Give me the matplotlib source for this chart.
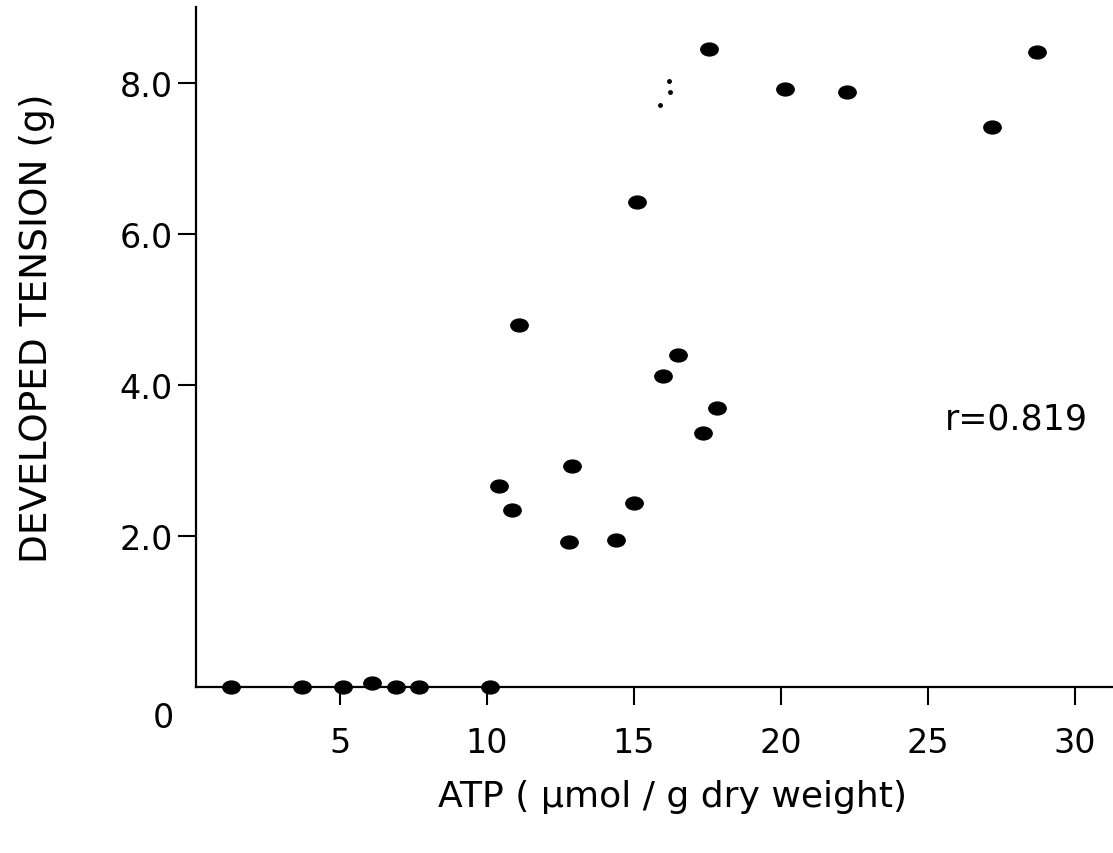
import matplotlib
matplotlib.use("Agg")
import matplotlib.pyplot as plt
from matplotlib.path import Path
from matplotlib.transforms import Affine2D

# ---- data ----
atp_zero = [1.3, 3.7, 5.1, 6.1, 6.9, 7.7, 10.1]
tension_zero = [0.0, 0.0, 0.0, 0.05, 0.0, 0.0, 0.0]

atp = [10.4, 10.85, 11.1, 12.8, 12.9, 14.4, 15.0, 15.1, 15.99, 16.5,
       17.35, 17.55, 17.82, 20.15, 22.25, 27.2, 28.7]
tension = [2.66, 2.34, 4.79, 1.92, 2.92, 1.95, 2.43, 6.42, 4.11, 4.39,
           3.36, 8.45, 3.69, 7.92, 7.87, 7.41, 8.41]

speck_x = [16.19, 16.22, 15.88]
speck_y = [8.02, 7.87, 7.70]

x_ticks = [5, 10, 15, 20, 25, 30]
x_tick_labels = ["5", "10", "15", "20", "25", "30"]
y_ticks = [2, 4, 6, 8]
y_tick_labels = ["2.0", "4.0", "6.0", "8.0"]

x_label = "ATP ( \u03bcmol / g dry weight)"
y_label = "DEVELOPED TENSION (g)"
r_text = "r=0.819"

plt.rcParams['font.family'] = ['DejaVu Sans']

fig = plt.figure(figsize=(11.13, 8.54), dpi=100)
ax = fig.add_axes([196 / 1113, 166 / 854, 917 / 1113, 680 / 854])

ellipse = Path.unit_circle().transformed(Affine2D().scale(1.35, 1.0))

ax.plot(atp_zero, tension_zero, linestyle='none', marker=ellipse,
        markersize=12.5, color='black', clip_on=False, zorder=3)
ax.plot(atp, tension, linestyle='none', marker=ellipse,
        markersize=12.5, color='black', clip_on=False, zorder=3)
ax.plot(speck_x, speck_y, linestyle='none', marker='o', markersize=2.5,
        color='black', zorder=3)

ax.set_xlim(0.1, 31.3)
ax.set_ylim(0, 9.0)

for s in ['top', 'right']:
    ax.spines[s].set_visible(False)
for s in ['left', 'bottom']:
    ax.spines[s].set_linewidth(1.6)

ax.set_xticks(x_ticks)
ax.set_xticklabels(x_tick_labels)
ax.set_yticks(y_ticks)
ax.set_yticklabels(y_tick_labels)
ax.tick_params(axis='x', direction='out', length=13, width=1.5, pad=15,
               labelsize=24)
ax.tick_params(axis='y', direction='out', length=13, width=1.5, pad=4,
               labelsize=24)

ax.text(-1.0, -0.40, "0", ha='center', va='center', fontsize=24)

ax.text(28.0, 3.55, r_text, ha='center', va='center', fontsize=25)

fig.text(672 / 1113, 1 - 797 / 854, x_label, ha='center', va='center',
         fontsize=26)
fig.text(37 / 1113, 1 - 328 / 854, y_label, ha='center', va='center',
         rotation=90, fontsize=27)

fig.savefig("out.png", dpi=100)
